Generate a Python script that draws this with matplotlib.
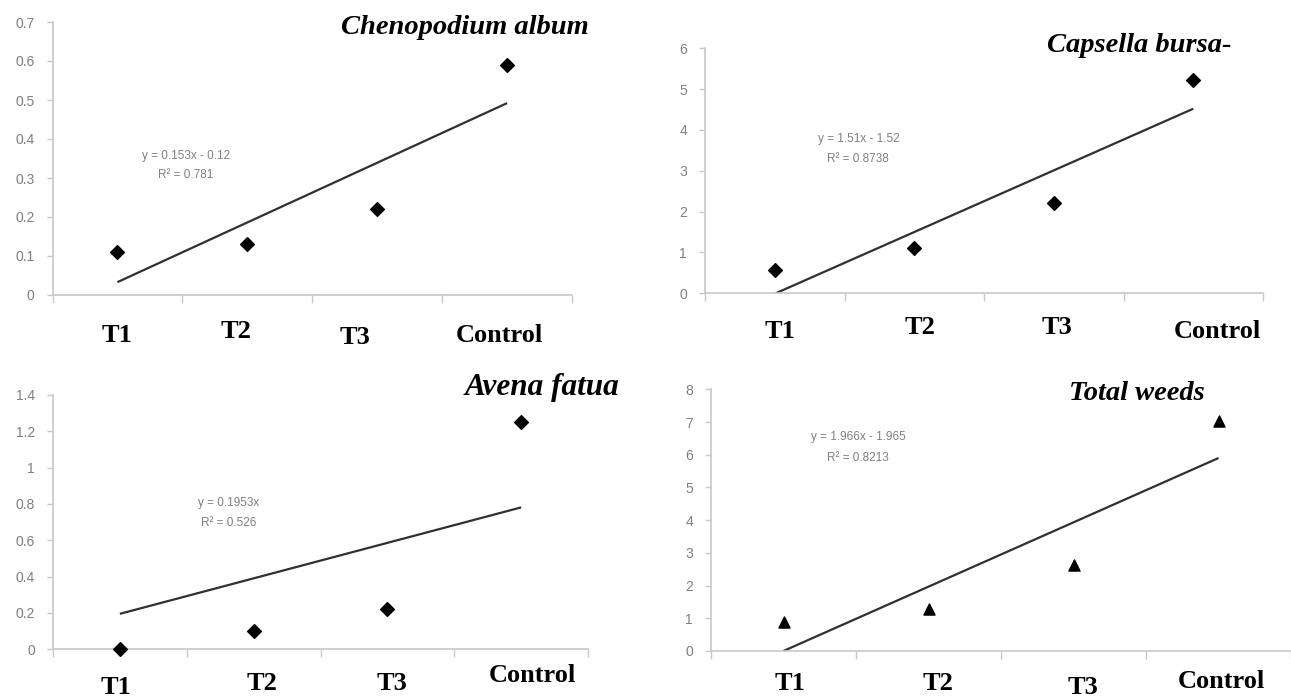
import numpy as np
import matplotlib.pyplot as plt

W, H = 1291, 698

categories = ['T1', 'T2', 'T3', 'Control']
x = np.arange(1, 5)

# values
chenopodium = [0.11, 0.13, 0.22, 0.59]
capsella = [0.57, 1.10, 2.20, 5.22]
avena = [0.0, 0.10, 0.22, 1.25]
total = [0.90, 1.27, 2.63, 7.03]

# trendline coefficients as printed on the chart
slopes = [0.153, 1.51, 0.1953, 1.966]
intercepts = [-0.12, -1.52, 0.0, -1.965]
eq_text = ['y = 0.153x - 0.12', 'y = 1.51x - 1.52', 'y = 0.1953x', 'y = 1.966x - 1.965']
r2_text = ['R² = 0.781', 'R² = 0.8738', 'R² = 0.526', 'R² = 0.8213']
titles = ['Chenopodium album', 'Capsella bursa-', 'Avena fatua', 'Total weeds']


def px(xp, yp):
    # pixel position -> figure fraction
    return xp / W, 1 - yp / H


def rect(left, right, top, bottom):
    return [left / W, 1 - bottom / H, (right - left) / W, (bottom - top) / H]


panels = [
    dict(data=chenopodium, marker='D', ms=7, rect=rect(52.5, 572, 22, 295),
         xlim=(0.5, 4.5), ylim=(0, 0.7), yticks=np.arange(0, 0.71, 0.1),
         title_xy=(465, 27), title_size=20.5, eq_xy=(186, 156), r2_xy=(186, 175),
         labels_xy=[(117, 335), (236, 332), (355, 337), (499, 335)]),
    dict(data=capsella, marker='D', ms=7, rect=rect(705, 1263, 48.3, 293.3),
         xlim=(0.5, 4.5), ylim=(0, 6), yticks=np.arange(0, 7, 1),
         title_xy=(1139, 45), title_size=20.5, eq_xy=(859, 139), r2_xy=(858, 159),
         labels_xy=[(780, 331), (920, 328), (1057, 328), (1217, 332)]),
    dict(data=avena, marker='D', ms=7, rect=rect(53, 588, 395, 649.3),
         xlim=(0.5, 4.5), ylim=(0, 1.4), yticks=np.arange(0, 1.41, 0.2),
         title_xy=(542, 388), title_size=22.5, eq_xy=(229, 503), r2_xy=(229, 523),
         labels_xy=[(116, 688), (262, 683), (392, 683), (532, 675)]),
    dict(data=total, marker='^', ms=8, rect=rect(711, 1291, 389.3, 651),
         xlim=(0.5, 0.5 + 580 / 146.5), ylim=(0, 8), yticks=np.arange(0, 9, 1),
         title_xy=(1137, 393), title_size=20.5, eq_xy=(858, 437), r2_xy=(858, 458),
         labels_xy=[(790, 684), (938, 683), (1083, 688), (1221, 682)]),
]

axis_grey = '#c8c8c8'
label_grey = '#7f7f7f'
serif = ['Liberation Serif', 'DejaVu Serif']
sans = ['Liberation Sans Narrow', 'Liberation Sans', 'DejaVu Sans']

fig = plt.figure(figsize=(W / 100, H / 100), dpi=100)

for i, p in enumerate(panels):
    ax = fig.add_axes(p['rect'])
    ax.scatter(x, p['data'], marker=p['marker'], s=p['ms'] ** 2, color='black',
               zorder=3, clip_on=False)
    xs = np.array([1, 4])
    ax.plot(xs, slopes[i] * xs + intercepts[i], color='#303030', lw=1.6,
            solid_capstyle='butt', zorder=2)

    ax.set_xlim(*p['xlim'])
    ax.set_ylim(*p['ylim'])
    ax.set_yticks(p['yticks'])
    ax.set_yticklabels([f'{round(v, 2):g}' for v in p['yticks']],
                       family=sans, fontsize=10, color=label_grey)
    ax.set_xticks(np.arange(0.5, 5, 1))
    ax.set_xticklabels([])
    ax.tick_params(axis='x', direction='out', length=6, width=1, color=axis_grey)
    ax.tick_params(axis='y', direction='out', length=4, width=1, color=axis_grey, pad=9)

    for s in ['top', 'right']:
        ax.spines[s].set_visible(False)
    for s in ['left', 'bottom']:
        ax.spines[s].set_color(axis_grey)
        ax.spines[s].set_linewidth(1.2)
    ax.patch.set_alpha(0)

    # species name
    fig.text(*px(*p['title_xy']), titles[i], family=serif, fontsize=p['title_size'],
             weight='bold', style='italic', ha='center', va='center')
    # trendline equation
    fig.text(*px(*p['eq_xy']), eq_text[i], family=sans, fontsize=8.5,
             color=label_grey, ha='center', va='center')
    fig.text(*px(*p['r2_xy']), r2_text[i], family=sans, fontsize=8.5,
             color=label_grey, ha='center', va='center')
    # category labels
    for lab, (lx, ly) in zip(categories, p['labels_xy']):
        fig.text(*px(lx, ly), lab, family=serif, fontsize=19, weight='bold',
                 ha='center', va='center')

fig.savefig('out.png', dpi=100)
